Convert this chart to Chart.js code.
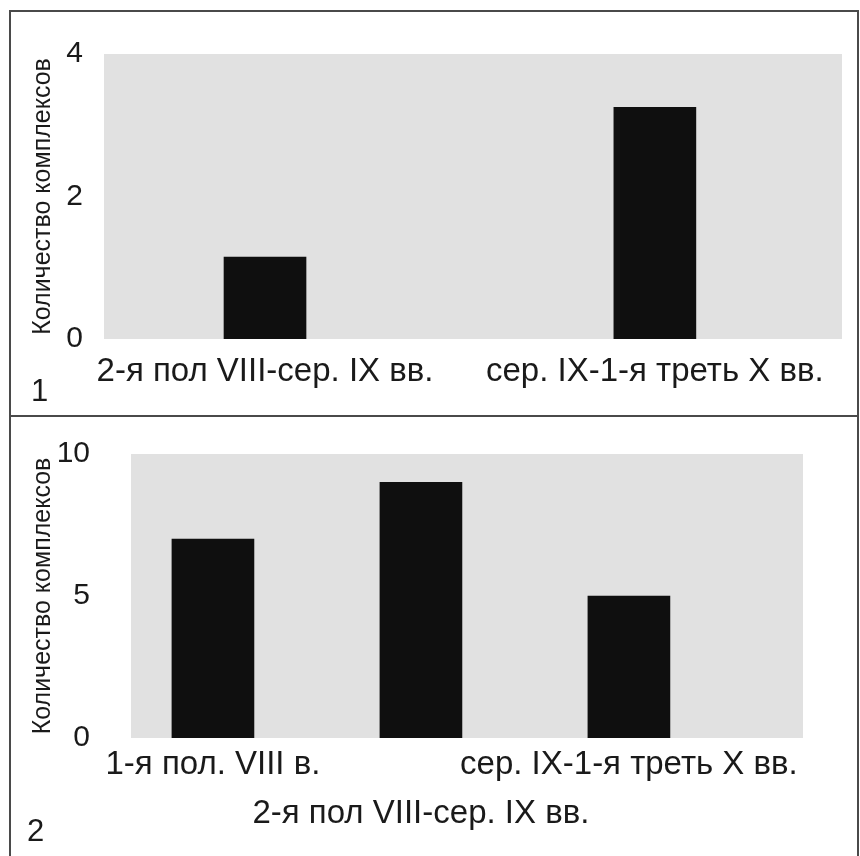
<!DOCTYPE html>
<html lang="ru">
<head>
<meta charset="utf-8">
<title>Количество комплексов</title>
<script src="https://cdn.jsdelivr.net/npm/chart.js@4.4.1/dist/chart.umd.min.js"></script>
<style>
  html, body {
    margin: 0;
    padding: 0;
    width: 860px;
    height: 856px;
    overflow: hidden;
    background: #fff;
    font-family: "Liberation Sans", Arial, sans-serif;
  }
  .frame {
    position: absolute;
    left: 9px;
    top: 10px;
    width: 846px;
    height: 900px;
    border: 2px solid #4a4a4a;
  }
  .divider {
    position: absolute;
    left: 9px;
    top: 415px;
    width: 850px;
    height: 0;
    border-top: 2px solid #4a4a4a;
  }
  .panel {
    position: absolute;
    left: 0;
    width: 860px;
  }
  .panel-num {
    position: absolute;
    font-size: 31px;
    line-height: 1;
    color: #1a1a1a;
  }
</style>
</head>
<body>
<div class="frame"></div>
<div class="divider"></div>

<div class="panel" style="top:0;height:416px;">
  <canvas id="chart1" width="860" height="416"></canvas>
</div>
<div class="panel" style="top:416px;height:440px;">
  <canvas id="chart2" width="860" height="440"></canvas>
</div>

<div class="panel-num" style="left:31px;top:375px;">1</div>
<div class="panel-num" style="left:27px;top:815px;">2</div>

<script>
// Chart 1 data
const categories1 = ["2-я пол VIII-сер. IX вв.", "сер. IX-1-я треть X вв."];
const values1 = [1.15, 3.25];
const yTicks1 = [0, 2, 4];

// Chart 2 data
const categories2 = ["1-я пол. VIII в.", "2-я пол VIII-сер. IX вв.", "сер. IX-1-я треть X вв."];
const values2 = [7, 9, 5];
const yTicks2 = [0, 5, 10];

const yTitle = "Количество комплексов";
const FONT = "'Liberation Sans', Arial, sans-serif";
const TEXT = "#1a1a1a";

// grey plot background
const plotBackground = {
  id: "plotBackground",
  beforeDraw(chart) {
    const { ctx, chartArea } = chart;
    ctx.save();
    ctx.fillStyle = "#e1e1e1";
    ctx.fillRect(chartArea.left, chartArea.top, chartArea.right - chartArea.left, chartArea.bottom - chartArea.top);
    ctx.restore();
  },
};

function makeChart(id, cfg) {
  const points = cfg.values.map((v, i) => ({ x: i, y: v }));
  return new Chart(document.getElementById(id), {
    type: "bar",
    data: {
      datasets: [
        {
          data: points,
          backgroundColor: "#0f0f0f",
          borderWidth: 0,
          barThickness: 82,
        },
      ],
    },
    options: {
      responsive: false,
      animation: false,
      layout: { padding: cfg.padding },
      plugins: {
        legend: { display: false },
        tooltip: { enabled: false },
      },
      scales: {
        x: {
          type: "linear",
          min: cfg.xMin,
          max: cfg.xMax,
          offset: false,
          grid: { display: false, drawTicks: false, offset: false },
          border: { display: false },
          afterBuildTicks(scale) {
            scale.ticks = cfg.labels.map((_, i) => ({ value: i }));
          },
          afterFit(scale) {
            scale.height = cfg.xHeight;
          },
          ticks: {
            autoSkip: false,
            maxRotation: 0,
            minRotation: 0,
            padding: cfg.xPad,
            color: TEXT,
            font: { family: FONT, size: 33, lineHeight: cfg.xLine },
            callback: (v) => cfg.labels[v],
          },
        },
        y: {
          min: cfg.yTicks[0],
          max: cfg.yTicks[cfg.yTicks.length - 1],
          grid: { display: false, drawTicks: false },
          border: { display: false },
          afterBuildTicks(scale) {
            scale.ticks = cfg.yTicks.map((v) => ({ value: v }));
          },
          afterFit(scale) {
            scale.width = cfg.yWidth;
            // tick padding would otherwise push the plot area down
            scale.paddingTop = 0;
            scale.paddingBottom = 0;
          },
          ticks: {
            padding: cfg.yPad,
            color: TEXT,
            font: { family: FONT, size: 30 },
          },
          title: {
            display: true,
            text: yTitle,
            color: TEXT,
            padding: { top: 28, bottom: 0 },
            font: { family: FONT, size: 25, lineHeight: 1.2 },
          },
        },
      },
    },
    plugins: [plotBackground],
  });
}

makeChart("chart1", {
  values: values1,
  labels: categories1,
  yTicks: yTicks1,
  xMin: -0.413,
  xMax: 1.48,
  xLine: 1.2,
  xPad: 13,
  xHeight: 77,
  yWidth: 104,
  yPad: 21,
  padding: { top: 54, right: 18, left: 0, bottom: 0 },
});

makeChart("chart2", {
  values: values2,
  // middle label sits on a second row, as in the original
  labels: [categories2[0], ["", categories2[1]], categories2[2]],
  yTicks: yTicks2,
  xMin: -0.394,
  xMax: 2.837,
  xLine: 1.5,
  xPad: 2,
  xHeight: 118,
  yWidth: 131,
  yPad: 41,
  padding: { top: 38, right: 57, left: 0, bottom: 0 },
});
</script>
</body>
</html>
